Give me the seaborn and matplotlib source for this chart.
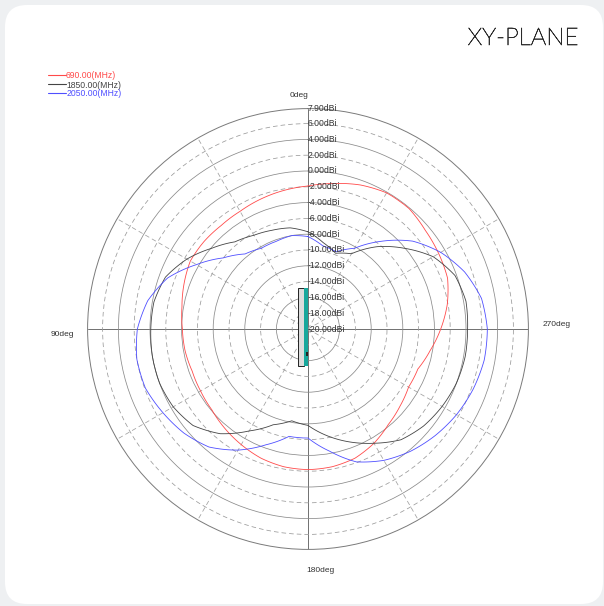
import numpy as np
import pandas as pd
import matplotlib
matplotlib.use("Agg")
import matplotlib.pyplot as plt
import matplotlib.transforms as mtransforms
import matplotlib.patheffects as pe
from matplotlib.patches import FancyBboxPatch, Rectangle
import seaborn as sns

# ---------------- data ----------------
angles_deg = [0, 10, 20, 30, 40, 50, 60, 70, 80, 90, 100, 110,
              120, 130, 140, 150, 160, 170, 180, 190, 200, 210, 220, 230,
              240, 250, 260, 270, 280, 290, 300, 310, 320, 330, 340, 350]

gain_690 = [-1.9, -2.2, -2.5, -2.8, -2.9, -2.8, -2.8, -3.3, -3.8, -4.1, -4.2, -4.4,
            -4.3, -4.1, -3.6, -3.1, -2.6, -2.3, -2.2, -2.3, -2.6, -3.3, -4.2, -4.8,
            -5.3, -5.2, -4.3, -3.2, -2.1, -1.2, -0.9, -0.6, -0.1, -0.1, -0.6, -1.3]

gain_1850 = [-7.7, -7.0, -6.7, -6.3, -5.6, -4.1, -2.3, -0.8, -0.2, -0.1, 0.0, 0.0,
             -0.3, -1.0, -2.7, -5.1, -7.1, -8.2, -7.8, -6.3, -4.8, -3.3, -1.7, -0.9,
             -0.4, 0.0, 0.2, 0.2, 0.3, -0.2, -1.7, -4.1, -6.4, -9.0, -9.8, -8.9]

gain_2050 = [-8.3, -8.0, -8.2, -8.2, -7.6, -6.0, -3.7, -1.1, 0.6, 1.6, 2.0, 1.9,
             1.2, 0.5, -0.5, -2.3, -4.4, -6.2, -6.2, -4.3, -2.1, -0.8, 0.2, 1.0,
             1.7, 2.25, 2.65, 2.7, 2.3, 1.1, -0.6, -2.7, -5.5, -8.2, -9.6, -9.3]

series_labels = ["690.00(MHz)", "1850.00(MHz)", "2050.00(MHz)"]
series_colors = ["#ff4a4a", "#444444", "#4f4fff"]

r_ticks = [-20, -18, -16, -14, -12, -10, -8, -6, -4, -2, 0, 2, 4, 6]
r_min, r_max = -20.0, 7.9
angle_labels = ["0deg", "90deg", "180deg", "270deg"]
title_text = "XY-PLANE"

# ---------------- style ----------------
sns.set_theme(style="white")
plt.rcParams['font.family'] = ['Liberation Sans', 'DejaVu Sans']

W, H = 604, 606
fig = plt.figure(figsize=(W / 100, H / 100), dpi=100)
fig.patch.set_facecolor('#eef0f2')
pix = mtransforms.IdentityTransform()

card = FancyBboxPatch((5, 2), 598, 599, boxstyle="round,pad=0,rounding_size=22",
                      transform=pix, facecolor='white', edgecolor='none', zorder=-5)
fig.patches.append(card)

# polar axes: centre (308, 329 from top), 7.9 px per dB
cx, cy = 308, H - 329
R = (r_max - r_min) * 7.9
ax = fig.add_axes([(cx - R) / W, (cy - R) / H, 2 * R / W, 2 * R / H], projection='polar')
ax.set_facecolor('none')
ax.set_theta_zero_location('N')
ax.set_theta_direction(1)

# data frame
frames = []
for lab, g in zip(series_labels, [gain_690, gain_1850, gain_2050]):
    th = np.deg2rad(np.r_[angles_deg, 360])
    gg = np.r_[g, g[0]]
    frames.append(pd.DataFrame({'theta': th, 'gain': gg, 'freq': lab}))
df = pd.concat(frames, ignore_index=True)

sns.lineplot(data=df, x='theta', y='gain', hue='freq', hue_order=series_labels,
             palette=series_colors, estimator=None, sort=False, linewidth=0.6,
             ax=ax, legend=False, zorder=3)

# draw the pattern segments as polar arcs rather than straight chords
for ln in ax.lines:
    ln.get_path()._interpolation_steps = 24

ax.set_ylim(r_min, r_max)
ax.set_yticks(r_ticks)
ax.set_yticklabels([])
ax.set_xticks(np.deg2rad(np.arange(0, 360, 30)))
ax.set_xticklabels([])
ax.set_xlabel('')
ax.set_ylabel('')
ax.grid(True)
ax.tick_params(length=0, pad=0)

for t, gl in zip(r_ticks, ax.yaxis.get_gridlines()):
    if t % 4 == 0:
        gl.set_linestyle('-')
        gl.set_color('#8a8a8a')
    else:
        gl.set_linestyle((0, (6, 4)))
        gl.set_color('#9a9a9a')
    gl.set_linewidth(0.55)

for a, gl in zip(np.arange(0, 360, 30), ax.xaxis.get_gridlines()):
    if a % 90 == 0:
        gl.set_linestyle('-')
        gl.set_color('#707070')
        gl.set_linewidth(0.7)
    else:
        gl.set_linestyle((0, (6, 4)))
        gl.set_color('#a0a0a0')
        gl.set_linewidth(0.55)

ax.spines['polar'].set_color('#7a7a7a')
ax.spines['polar'].set_linewidth(0.7)

# radial labels along the 0deg axis
for t in r_ticks + [r_max]:
    ax.text(0, t, f"{t:.2f}dBi", ha='left', va='center', fontsize=6.2,
            color='#333333', zorder=4)

# angle labels
label_pos = [(299, 95), (62, 334), (320, 571), (557, 324)]
for txt, (x, y) in zip(angle_labels, label_pos):
    fig.text(x / W, 1 - y / H, txt, ha='center', va='center', fontsize=6,
             color='#333333')

# title
fig.text(523 / W, 1 - 45 / H, title_text, ha='center', va='baseline', fontsize=17.5,
         family=['Lato', 'DejaVu Sans'], fontweight='light', color='#2a2a2a',
         path_effects=[pe.withStroke(linewidth=0.45, foreground='#2a2a2a')])

# legend
handles = ax.get_lines()[:3]
leg = fig.legend(handles, series_labels, loc='upper left',
                 bbox_to_anchor=(48 / W, 1 - 71.5 / H), frameon=False, fontsize=6.2,
                 handlelength=2.1, handletextpad=0.0, labelspacing=0.0, borderpad=0,
                 borderaxespad=0, labelcolor='linecolor')
for lh in leg.get_lines():
    lh.set_linewidth(0.8)

# antenna icon at the centre
fig.patches.append(Rectangle((298, H - 365.5), 5.5, 78, transform=pix,
                             facecolor='#dcdcdc', edgecolor='#222222', linewidth=0.7, zorder=5))
fig.patches.append(Rectangle((303.5, H - 365.5), 4, 78, transform=pix,
                             facecolor='#17a89c', edgecolor='none', zorder=5))
fig.patches.append(Rectangle((306.3, H - 356), 1.8, 4, transform=pix,
                             facecolor='#222222', edgecolor='none', zorder=6))

fig.savefig('out.png', dpi=100, facecolor=fig.get_facecolor())
